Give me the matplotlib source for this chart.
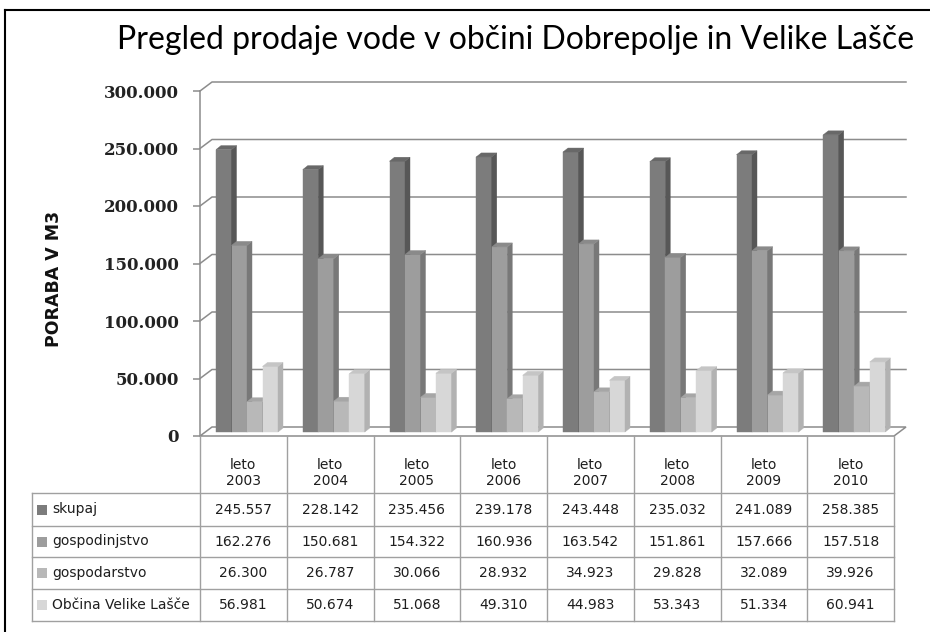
import numpy as np
import matplotlib
matplotlib.use("Agg")
import matplotlib.pyplot as plt
from matplotlib.patches import Polygon, Rectangle

plt.rcParams['font.family'] = ['Lato', 'DejaVu Sans']

TITLE = "Pregled prodaje vode v občini Dobrepolje in Velike Lašče"
YEARS = ["2003", "2004", "2005", "2006", "2007", "2008", "2009", "2010"]
SERIES = ["skupaj", "gospodinjstvo", "gospodarstvo", "Občina Velike Lašče"]
skupaj = [245557, 228142, 235456, 239178, 243448, 235032, 241089, 258385]
gospodinjstvo = [162276, 150681, 154322, 160936, 163542, 151861, 157666, 157518]
gospodarstvo = [26300, 26787, 30066, 28932, 34923, 29828, 32089, 39926]
velike_lasce = [56981, 50674, 51068, 49310, 44983, 53343, 51334, 60941]
YTICKS = [0, 50000, 100000, 150000, 200000, 250000, 300000]

FRONT = ['#7c7c7c', '#9d9d9d', '#b8b8b8', '#d7d7d7']
SIDE = ['#575757', '#787878', '#959595', '#b2b2b2']
TOP = ['#686868', '#8a8a8a', '#a6a6a6', '#c5c5c5']
GRID = '#8c8c8c'
TABLE_LINE = '#a0a0a0'
TXT = '#1e1e1e'

W_PX, H_PX = 930, 632
# plot front plane in pixels
L, R, Y0, Y300 = 200, 894, 436, 91
NCAT = len(YEARS)


def fmt(v):
    return f"{v:,.0f}".replace(",", ".")


fig = plt.figure(figsize=(W_PX / 100, H_PX / 100), dpi=100)
ax = fig.add_axes([L / W_PX, (H_PX - Y0) / H_PX, (R - L) / W_PX, (Y0 - Y300) / H_PX])
ax.set_xlim(0, NCAT)
ax.set_ylim(0, 300000)
ax.patch.set_alpha(0)

PX_X = (R - L) / NCAT
PX_Y = (Y0 - Y300) / 300000


def sh(pts, dx, dy):
    # shift data points by a pixel offset
    return [(x + dx / PX_X, y + dy / PX_Y) for x, y in pts]


# back wall offset and bar geometry (pixels)
BW_X, BW_Y = 12, 9
BF_X, BF_Y = 3, 4
BD_X, BD_Y = 5, 4
BAR_W = 15.5 / PX_X
GRP0 = 13 / PX_X

# floor
floor = Polygon(sh([(0, 0), (NCAT, 0)], 0, 0) + sh([(NCAT, 0), (0, 0)], BW_X, BW_Y),
                closed=True, facecolor='white', edgecolor=GRID, lw=1.1, zorder=0.5, clip_on=False)
ax.add_patch(floor)

# gridlines on back wall
for v in YTICKS[1:]:
    pts = [(0, v)] + sh([(0, v), (NCAT, v)], BW_X, BW_Y)
    xs, ys = zip(*pts)
    ax.plot(xs, ys, color=GRID, lw=1.1, zorder=1, clip_on=False)

# 3d-ish bars
data = [skupaj, gospodinjstvo, gospodarstvo, velike_lasce]
for i in range(NCAT):
    for j, vals in enumerate(data):
        v = vals[i]
        x0 = i + GRP0 + j * BAR_W
        x1 = x0 + BAR_W
        front = sh([(x0, 0), (x1, 0), (x1, v), (x0, v)], BF_X, BF_Y)
        side = sh([(x1, 0), (x1, v)], BF_X, BF_Y) + sh([(x1, v), (x1, 0)], BF_X + BD_X, BF_Y + BD_Y)
        top = sh([(x0, v), (x1, v)], BF_X, BF_Y) + sh([(x1, v), (x0, v)], BF_X + BD_X, BF_Y + BD_Y)
        for pts, col in [(front, FRONT[j]), (side, SIDE[j]), (top, TOP[j])]:
            ax.add_patch(Polygon(pts, closed=True, facecolor=col, edgecolor=col,
                                 lw=0.3, zorder=3, clip_on=False))

# axis
for s in ['top', 'right', 'bottom']:
    ax.spines[s].set_visible(False)
ax.spines['left'].set_color(GRID)
ax.spines['left'].set_linewidth(1.1)
ax.set_xticks([])
ax.set_yticks(YTICKS)
ax.set_yticklabels([fmt(v) for v in YTICKS], family='DejaVu Serif', fontsize=12,
                   fontweight='bold', color='#222222')
ax.tick_params(axis='y', length=5, width=1.1, color=GRID, pad=10)
ax.set_ylabel("PORABA V M3", family='DejaVu Sans', fontsize=12.5, fontweight='bold', color='#111111')
ax.yaxis.set_label_coords((63 - L) / (R - L), (Y0 - 279) / (Y0 - Y300))

# title
fig.text(516 / W_PX, 1 - 40 / H_PX, TITLE, fontsize=23, ha='center', va='center', color='black')

# overlay in pixel coordinates: frame and data table
ov = fig.add_axes([0, 0, 1, 1])
ov.set_xlim(0, W_PX)
ov.set_ylim(H_PX, 0)
ov.axis('off')
ov.patch.set_alpha(0)

ov.plot([5, 5], [10, H_PX], color='black', lw=1.5)
ov.plot([5, W_PX], [10, 10], color='black', lw=1.5)

col_x = [L + k * PX_X for k in range(NCAT + 1)]
row_y = [493, 526, 557, 589, 621]
TAB_L = 32
TAB_FONT = dict(family='DejaVu Sans', fontsize=10, color=TXT)

for x in col_x:
    ov.plot([x, x], [Y0, row_y[-1]], color=TABLE_LINE, lw=1)
for y in row_y:
    ov.plot([TAB_L, col_x[-1]], [y, y], color=TABLE_LINE, lw=1)
ov.plot([TAB_L, TAB_L], [row_y[0], row_y[-1]], color=TABLE_LINE, lw=1)

for i, yr in enumerate(YEARS):
    cx = (col_x[i] + col_x[i + 1]) / 2
    ov.text(cx, 473, f"leto\n{yr}", ha='center', va='center', linespacing=1.25, **TAB_FONT)

for j, (name, vals) in enumerate(zip(SERIES, data)):
    cy = (row_y[j] + row_y[j + 1]) / 2
    ov.add_patch(Rectangle((37, cy - 5), 10, 10, facecolor=FRONT[j], edgecolor='none'))
    ov.text(52, cy, name, ha='left', va='center', **TAB_FONT)
    for i, v in enumerate(vals):
        cx = (col_x[i] + col_x[i + 1]) / 2
        ov.text(cx, cy, fmt(v), ha='center', va='center', **TAB_FONT)

fig.savefig("out.png", dpi=100)
